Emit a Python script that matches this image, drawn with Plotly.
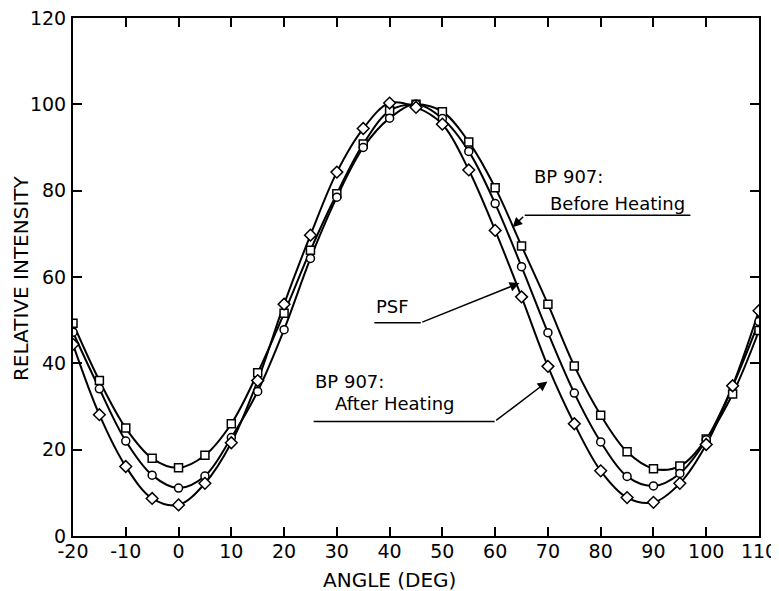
import plotly.graph_objects as go

# ---- data ----
angle = [-20, -15, -10, -5, 0, 5, 10, 15, 20, 25, 30, 35, 40, 45, 50, 55,
         60, 65, 70, 75, 80, 85, 90, 95, 100, 105, 110]

before_heating = [49.3, 36.0, 25.0, 18.0, 15.8, 18.7, 26.0, 37.8, 51.6, 66.2, 79.3, 90.8, 98.5, 100.0,
                  98.3, 91.3, 80.7, 67.2, 53.7, 39.4, 28.0, 19.5, 15.6, 16.2, 22.5, 32.9, 47.6]

psf = [47.2, 34.1, 22.0, 14.1, 11.1, 13.9, 22.8, 33.5, 47.8, 64.3, 78.5, 90.0, 96.8, 100.0,
       96.7, 89.1, 77.0, 62.4, 47.1, 33.1, 21.8, 13.8, 11.6, 14.5, 22.3, 34.7, 49.7]

after_heating = [44.4, 28.1, 16.1, 8.7, 7.2, 12.2, 21.6, 36.0, 53.7, 69.7, 84.3, 94.4, 100.3, 99.3,
                 95.4, 84.8, 70.8, 55.4, 39.3, 26.0, 15.1, 8.9, 7.8, 12.2, 21.2, 34.8, 52.2]

x_tickvals = [-20, -10, 0, 10, 20, 30, 40, 50, 60, 70, 80, 90, 100, 110]
x_ticktext = ["-20", "-10", "0", "10", "20", "30", "40", "50", "60", "70", "80", "90", "100", "110"]
y_tickvals = [0, 20, 40, 60, 80, 100, 120]
y_ticktext = ["0", "20", "40", "60", "80", "100", "120"]

FONT = "DejaVu Sans"

series = [
    ("BP 907: Before Heating", before_heating, "square", 8),
    ("PSF", psf, "circle", 8),
    ("BP 907: After Heating", after_heating, "diamond", 9),
]

fig = go.Figure()

# lines first
for name, vals, sym, size in series:
    fig.add_trace(go.Scatter(
        x=angle, y=vals, mode="lines", name=name, showlegend=False,
        line=dict(color="black", width=2, shape="spline", smoothing=1.0),
        hoverinfo="skip"))

# open markers on top
for name, vals, sym, size in series:
    fig.add_trace(go.Scatter(
        x=angle, y=vals, mode="markers", name=name, showlegend=False,
        marker=dict(symbol=sym, size=size, color="white",
                    line=dict(color="black", width=1.5))))

# ---- leader lines (horizontal parts) ----
leaders = [
    (65.6, 97.0, 74.3),   # Before Heating
    (37.1, 45.9, 49.4),   # PSF
    (25.6, 59.9, 26.5),   # After Heating
]
for x0, x1, yy in leaders:
    fig.add_shape(type="line", xref="x", yref="y", x0=x0, x1=x1, y0=yy, y1=yy,
                  line=dict(color="black", width=1.5))

# ---- arrows (diagonal parts) ----
arrows = [
    (63.3, 71.5, 65.6, 74.3),
    (64.6, 58.6, 45.9, 49.4),
    (69.9, 35.8, 59.9, 26.5),
]
for tx, ty, sx, sy in arrows:
    fig.add_annotation(x=tx, y=ty, ax=sx, ay=sy, xref="x", yref="y",
                       axref="x", ayref="y", text="", showarrow=True,
                       arrowhead=2, arrowsize=1.3, arrowwidth=1.5,
                       arrowcolor="black")

# ---- labels ----
labels = [
    (67.0, 83.3, "BP 907:"),
    (70.1, 77.1, "Before Heating"),
    (37.0, 53.2, "PSF"),
    (25.4, 35.7, "BP 907:"),
    (29.2, 30.8, "After Heating"),
]
for lx, ly, txt in labels:
    fig.add_annotation(x=lx, y=ly, xref="x", yref="y", text=txt, showarrow=False,
                       xanchor="left", yanchor="middle",
                       font=dict(family=FONT, size=18, color="black"))

# axis titles (page has an 8px body margin; figure is sized to fit)
fig.add_annotation(x=-0.0758, y=0.498, xref="paper", yref="paper",
                   text="RELATIVE INTENSITY", textangle=-90, showarrow=False,
                   xanchor="center", yanchor="middle",
                   font=dict(family=FONT, size=20, color="black"))
fig.add_annotation(x=0.462, y=-0.0846, xref="paper", yref="paper",
                   text="ANGLE (DEG)", showarrow=False,
                   xanchor="center", yanchor="middle",
                   font=dict(family=FONT, size=20, color="black"))

axis_common = dict(showline=True, linecolor="black", linewidth=2, mirror="ticks",
                   ticks="inside", ticklen=9, tickwidth=1.5, tickcolor="black",
                   showgrid=False, zeroline=False, automargin=False,
                   ticklabeloverflow="allow",
                   tickfont=dict(family=FONT, size=19, color="black"))

fig.update_xaxes(range=[-20, 110], tickvals=x_tickvals, ticktext=x_ticktext,
                 ticklabelstandoff=-3, **axis_common)
fig.update_yaxes(range=[0, 120], tickvals=y_tickvals, ticktext=y_ticktext,
                 ticklabelstandoff=1, **axis_common)

fig.update_layout(
    width=771, height=583,
    margin=dict(l=65, r=20, t=10, b=55),
    paper_bgcolor="white", plot_bgcolor="white",
    showlegend=False,
)

fig.write_html("out.html")
